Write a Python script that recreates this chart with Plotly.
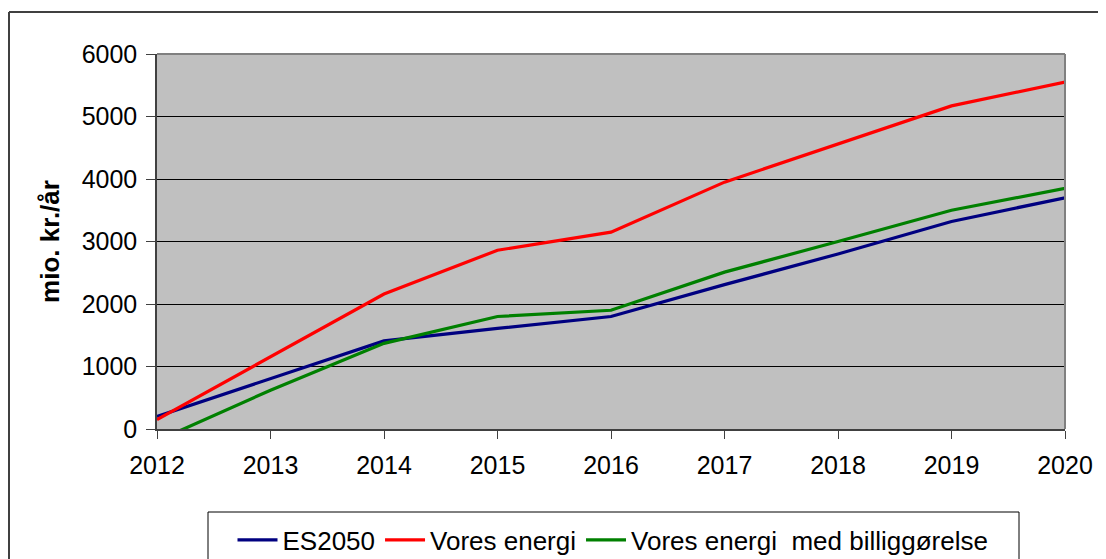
import plotly.graph_objects as go

years = [2012, 2013, 2014, 2015, 2016, 2017, 2018, 2019, 2020]
es2050 = [200, 800, 1410, 1610, 1800, 2310, 2800, 3320, 3700]
vores = [150, 1160, 2160, 2860, 3150, 3950, 4560, 5170, 5550]
vores_billig = [-190, 620, 1370, 1800, 1900, 2510, 3000, 3500, 3850]
series_names = ["ES2050", "Vores energi", "Vores energi  med billiggørelse"]
series_colors = ["#000080", "#FF0000", "#008000"]
y_ticks = [0, 1000, 2000, 3000, 4000, 5000, 6000]

# page body has an 8px margin; the figure is sized to fill the rest of the window
OFF = 8
W, H = 1106 - OFF, 559 - OFF
L, R, T, B = 157 - OFF, 41, 54 - OFF, 130
PW, PH = W - L - R, H - T - B


def px_x(x):  # figure pixel -> paper x
    return (x - L) / PW


def px_y(y):  # figure pixel -> paper y
    return (H - B - y) / PH


fig = go.Figure()
for name, vals, col in zip(series_names, [es2050, vores, vores_billig], series_colors):
    fig.add_trace(go.Scatter(x=years, y=vals, mode="lines", name=name,
                             line=dict(color=col, width=3.2)))

font = "Liberation Sans, Arial, sans-serif"
fig.update_layout(
    width=W, height=H,
    margin=dict(l=L, r=R, t=T, b=B, pad=0, autoexpand=False),
    paper_bgcolor="white", plot_bgcolor="#C0C0C0",
    font=dict(family=font, size=25, color="black"),
    showlegend=True,
    legend=dict(orientation="h", xref="container", yref="container",
                x=(613 - OFF) / W, xanchor="center",
                y=1 - (540 - OFF) / H, yanchor="middle",
                borderwidth=0, bgcolor="rgba(0,0,0,0)",
                font=dict(size=26, family=font), itemwidth=40,
                tracegroupgap=0, traceorder="normal"),
    xaxis=dict(range=[2012, 2020], tickvals=years, ticktext=[str(y) for y in years],
               showgrid=False, zeroline=False, showline=True, linecolor="#404040",
               linewidth=1.5, ticks="outside", ticklen=8, tickcolor="#404040",
               tickfont=dict(size=25), ticklabelstandoff=5, mirror=False),
    yaxis=dict(range=[0, 6000], tickvals=y_ticks, showgrid=True, gridcolor="black",
               gridwidth=1, zeroline=False, showline=True, linecolor="#404040",
               linewidth=1.5, ticks="outside", ticklen=9, tickcolor="#404040",
               tickfont=dict(size=25), ticklabelstandoff=4,
               title=dict(text="<b>mio. kr./år</b>", font=dict(size=26), standoff=15)),
    shapes=[
        # plot area border (top/right)
        dict(type="line", xref="paper", yref="paper", x0=0, x1=1, y0=1, y1=1,
             line=dict(color="#808080", width=2)),
        dict(type="line", xref="paper", yref="paper", x0=1, x1=1, y0=0, y1=1,
             line=dict(color="#808080", width=2)),
        # outer chart frame (top and left edges visible)
        dict(type="line", xref="paper", yref="paper",
             x0=px_x(1), x1=px_x(W + 5), y0=px_y(4), y1=px_y(4),
             line=dict(color="black", width=1.5)),
        dict(type="line", xref="paper", yref="paper",
             x0=px_x(1), x1=px_x(1), y0=px_y(4), y1=px_y(H + 5),
             line=dict(color="#404040", width=2)),
        # legend frame
        dict(type="rect", xref="paper", yref="paper",
             x0=px_x(208 - OFF), x1=px_x(1019 - OFF),
             y0=px_y(512 - OFF), y1=px_y(H + 10),
             line=dict(color="black", width=1), fillcolor="white", layer="below"),
    ],
)

fig.write_html("out.html")
